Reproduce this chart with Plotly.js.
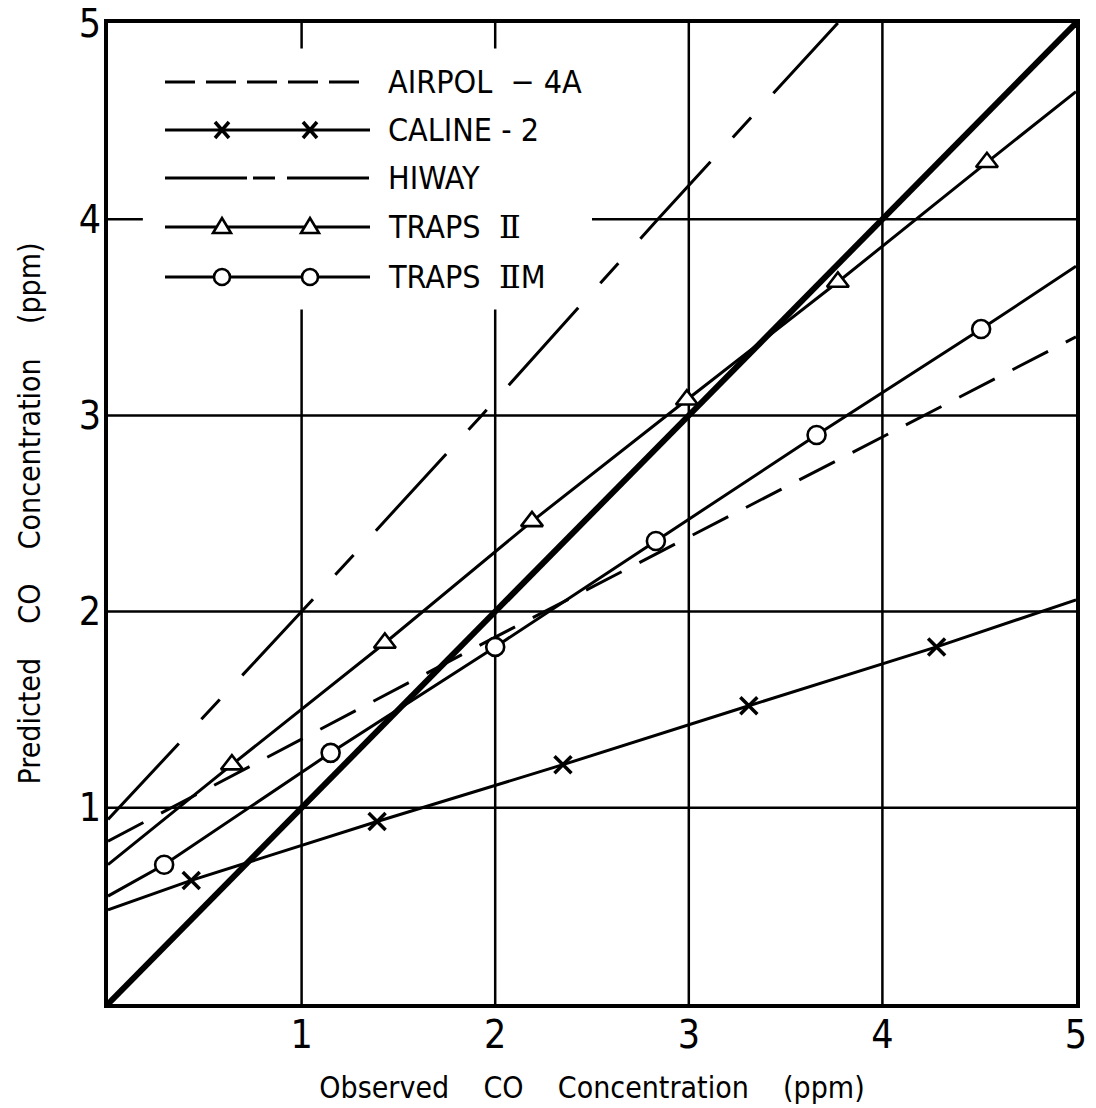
<!DOCTYPE html>
<html><head><meta charset="utf-8">
<script src="https://cdn.plot.ly/plotly-3.0.1.min.js"></script>
<style>html,body{margin:0;padding:0;background:#fff}</style>
</head><body><div id="chart" style="width:1096px;height:1108px"></div>
<script>
// ---------------- data ----------------
const ROMAN2 = "<span style=\"font-family:'DejaVu Serif'\">\u2161</span>";
const seriesNames = ['AIRPOL\u00a0\u00a0\u2212\u00a04A', 'CALINE\u00a0-\u00a02', 'HIWAY', 'TRAPS\u00a0\u00a0' + ROMAN2, 'TRAPS\u00a0\u00a0' + ROMAN2 + 'M'];
const tickValues = [1, 2, 3, 4, 5];
const tickLabels = ['1', '2', '3', '4', '5'];

const perfectX = [0, 5];
const perfectY = [0, 5];

const airpolX = [0, 1, 2, 3, 4, 5];
const airpolY = [0.83, 1.35, 1.87, 2.38, 2.89, 3.40];

const calineLineX = [0, 0.43, 1.39, 2.35, 3.31, 4.28, 5];
const calineLineY = [0.48, 0.63, 0.93, 1.22, 1.52, 1.82, 2.06];
const calinePointX = [0.43, 1.39, 2.35, 3.31, 4.28];
const calinePointY = [0.63, 0.93, 1.22, 1.52, 1.82];

const hiwayX = [0, 1, 1.93, 2.84, 3.77];
const hiwayY = [0.94, 2.0, 3.0, 4.0, 5.0];

const traps2LineX = [0, 0.64, 1.43, 2.19, 2.99, 3.77, 4.54, 5];
const traps2LineY = [0.71, 1.22, 1.84, 2.46, 3.08, 3.68, 4.29, 4.65];
const traps2PointX = [0.64, 1.43, 2.19, 2.99, 3.77, 4.54];
const traps2PointY = [1.22, 1.84, 2.46, 3.08, 3.68, 4.29];

const traps2mLineX = [0, 0.29, 1.15, 2.0, 2.83, 3.66, 4.51, 5];
const traps2mLineY = [0.55, 0.71, 1.28, 1.82, 2.36, 2.90, 3.44, 3.76];
const traps2mPointX = [0.29, 1.15, 2.0, 2.83, 3.66, 4.51];
const traps2mPointY = [0.71, 1.28, 1.82, 2.36, 2.90, 3.44];

// ---------------- styling ----------------
const FONT = "'Liberation Sans Narrow', 'DejaVu Sans Condensed', 'Arial Narrow', sans-serif";
const BLACK = '#000';
const LW = 3;
const DASH_AIRPOL = '40px,20px';
const DASH_HIWAY = '104px,33px,27px,33px';

const xMarker = {symbol: 'x-thin', size: 17, color: BLACK, line: {color: BLACK, width: 3.5}};
const triMarker = {symbol: 'triangle-up', size: 19, color: '#fff', line: {color: BLACK, width: 2.6}};
const circMarker = {symbol: 'circle', size: 18, color: '#fff', line: {color: BLACK, width: 2.6}};

function lineTrace(x, y, dash, width) {
  return {x: x, y: y, type: 'scatter', mode: 'lines', showlegend: false, hoverinfo: 'skip',
          line: {color: BLACK, width: width || LW, dash: dash || 'solid'}};
}
function markerTrace(x, y, name, marker) {
  return {x: x, y: y, name: name, type: 'scatter', mode: 'markers', showlegend: false, marker: marker, cliponaxis: false};
}

const traces = [
  lineTrace(perfectX, perfectY, 'solid', 6),
  lineTrace(airpolX, airpolY, DASH_AIRPOL),
  lineTrace(hiwayX, hiwayY, DASH_HIWAY),
  lineTrace(calineLineX, calineLineY),
  lineTrace(traps2LineX, traps2LineY),
  lineTrace(traps2mLineX, traps2mLineY),
  markerTrace(calinePointX, calinePointY, 'CALINE-2', xMarker),
  markerTrace(traps2PointX, traps2PointY, 'TRAPS II', triMarker),
  markerTrace(traps2mPointX, traps2mPointY, 'TRAPS IIM', circMarker)
];

// ---------------- grid (partial, as in the reference) ----------------
const shapes = [];
const gridLine = {color: BLACK, width: 2.5};
function seg(x0, y0, x1, y1) {
  shapes.push({type: 'line', xref: 'x', yref: 'y', x0: x0, y0: y0, x1: x1, y1: y1, line: gridLine, layer: 'below'});
}
tickValues.filter(v => v < 5).forEach(v => {
  if (v <= 2) { seg(v, 0, v, 3.54); seg(v, 4.87, v, 5); }
  else { seg(v, 0, v, 5); }
});
tickValues.filter(v => v < 5).forEach(v => {
  if (v === 4) { seg(0, v, 0.18, v); seg(2.5, v, 5, v); }
  else { seg(0, v, 5, v); }
});

// ---------------- hand-drawn style legend ----------------
const PL = 108, PT = 23, PW = 968, PH = 981;
const px2x = px => (px - PL) / PW;
const py2y = py => (PT + PH - py) / PH;
const legendRows = [82, 130, 178, 227, 277];
const legendLineX0 = px2x(165), legendLineX1 = px2x(370);
const legendMarkX = [px2x(222), px2x(310)];
const legendTextX = px2x(386);
const legendDash = ['30px,11px', 'solid', '82px,6px,22px,12px', 'solid', 'solid'];
const legendKind = [null, 'x', null, 'tri', 'circ'];
const annotations = [];
seriesNames.forEach((name, i) => {
  const yy = py2y(legendRows[i]);
  shapes.push({type: 'line', xref: 'paper', yref: 'paper', x0: legendLineX0, x1: legendLineX1, y0: yy, y1: yy,
               line: {color: BLACK, width: LW, dash: legendDash[i]}});
  const kind = legendKind[i];
  if (kind) {
    legendMarkX.forEach(mx => {
      const base = {xref: 'paper', yref: 'paper', xsizemode: 'pixel', ysizemode: 'pixel', xanchor: mx, yanchor: yy};
      if (kind === 'circ') shapes.push(Object.assign({type: 'circle', x0: -8, x1: 8, y0: -8, y1: 8, fillcolor: '#fff', line: {color: BLACK, width: 2.6}}, base));
      if (kind === 'tri') shapes.push(Object.assign({type: 'path', path: 'M-9,-6L9,-6L0,9Z', fillcolor: '#fff', line: {color: BLACK, width: 2.6}}, base));
      if (kind === 'x') shapes.push(Object.assign({type: 'path', path: 'M-7,-8L7,8M-7,8L7,-8', line: {color: BLACK, width: 3.5}}, base));
    });
  }
  annotations.push({xref: 'paper', yref: 'paper', x: legendTextX, y: yy, xanchor: 'left', yanchor: 'middle',
                    text: name, showarrow: false, font: {size: 32, family: FONT, color: BLACK}});
});

const sp = '\u00a0\u00a0\u00a0\u00a0';
const layout = {
  width: 1096, height: 1108,
  margin: {l: PL, r: 1096 - PL - PW, t: PT, b: 1108 - PT - PH, pad: 0},
  paper_bgcolor: '#fff', plot_bgcolor: '#fff',
  showlegend: false,
  font: {family: FONT, color: BLACK},
  xaxis: {range: [0, 5], tickvals: tickValues, ticktext: tickLabels, showgrid: false, zeroline: false,
          showline: true, mirror: true, linewidth: 4, linecolor: BLACK, ticks: '', automargin: false,
          tickfont: {size: 39, family: FONT}, ticklabelstandoff: -7,
          title: {text: 'Observed' + sp + 'CO' + sp + 'Concentration' + sp + '(ppm)', font: {size: 30, family: FONT}, standoff: 22}},
  yaxis: {range: [0, 5], tickvals: tickValues, ticktext: tickLabels, showgrid: false, zeroline: false,
          showline: true, mirror: true, linewidth: 4, linecolor: BLACK, ticks: '', automargin: false,
          tickfont: {size: 39, family: FONT}, ticklabelstandoff: -5,
          title: {text: 'Predicted' + sp + 'CO' + sp + 'Concentration' + sp + '(ppm)', font: {size: 30, family: FONT}, standoff: 30}},
  shapes: shapes,
  annotations: annotations
};

Plotly.newPlot('chart', traces, layout, {displayModeBar: false, staticPlot: true});
</script>
</body></html>
